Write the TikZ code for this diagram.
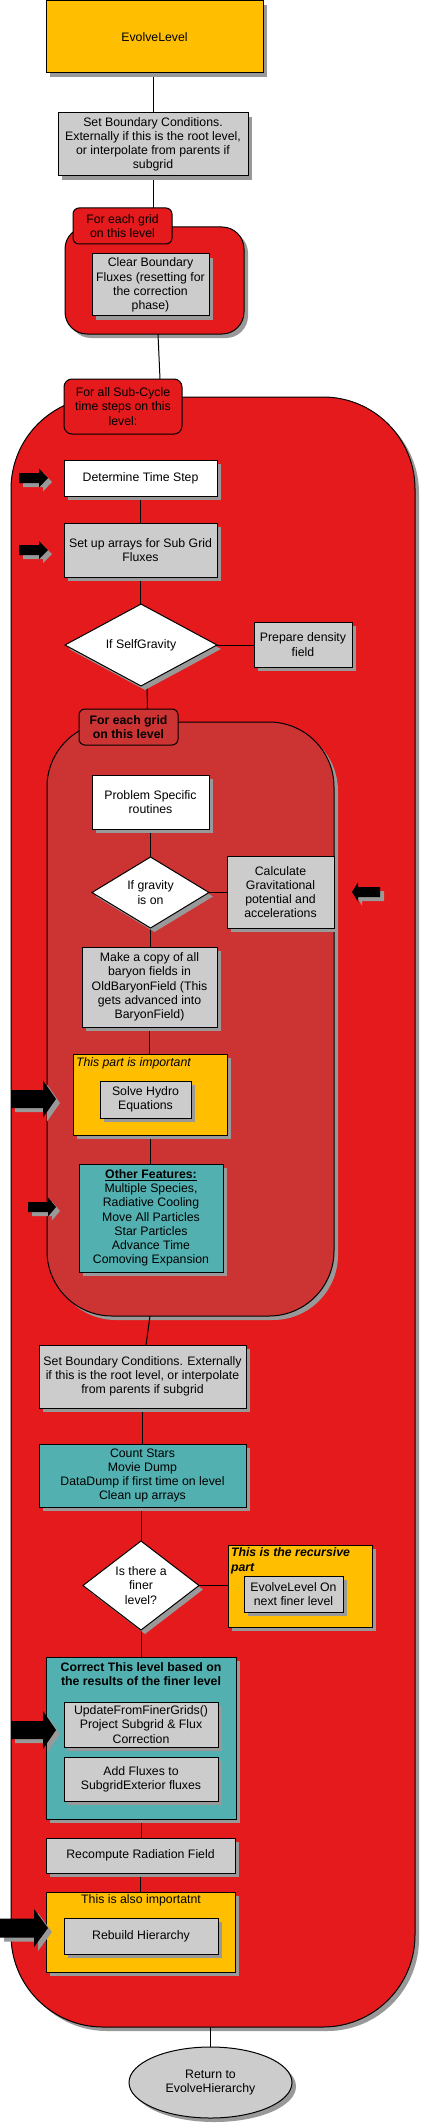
\documentclass[tikz,border=0pt]{standalone}
\usepackage{fontspec}
\setmainfont{Liberation Sans}
\usetikzlibrary{shapes.geometric,shadows}
\definecolor{yel}{HTML}{FFBF00}
\definecolor{lgray}{HTML}{CCCCCC}
\definecolor{outred}{HTML}{E41A1C}
\definecolor{inred}{HTML}{CC3333}
\definecolor{teal2}{HTML}{52B0B0}
\definecolor{shadowgray}{HTML}{999999}
\newcommand{\myfnt}{\fontsize{12.3}{14.2}\selectfont}
\pgfdeclarelayer{bg}\pgfdeclarelayer{conn}\pgfsetlayers{bg,conn,main}
\tikzset{
 shad/.style={drop shadow={shadow xshift=4pt,shadow yshift=-4pt,fill=shadowgray,opacity=1}},
 boxbase/.style={draw=black,line width=1pt,rectangle,inner sep=1pt,outer sep=0pt,anchor=north west,align=center,font=\myfnt},
 box/.style={boxbase,shad},
 sz/.style 2 args={minimum width=#1pt,minimum height=#2pt},
 dia/.style={draw=black,line width=1pt,diamond,inner sep=0pt,outer sep=0pt,fill=white,align=center,font=\myfnt,shad},
 conn/.style={draw=black,line width=1pt},
 blockarrow/.style={fill=black,shad},
 note/.style={inner sep=0pt,outer sep=0pt,font=\myfnt}
}
% xstart, xneck, xtip, ycentre, half body, half head
\newcommand{\blkarrow}[6]{%
 \path[blockarrow] (#1,#4-#5) -- (#2,#4-#5) -- (#2,#4-#6) -- (#3,#4) -- (#2,#4+#6) -- (#2,#4+#5) -- (#1,#4+#5) -- cycle;}
\begin{document}
\begin{tikzpicture}[x=1pt,y=-1pt]
\begin{pgfonlayer}{bg}
\fill[white] (0,0) rectangle (421,2124);
\end{pgfonlayer}
\useasboundingbox (0,0) rectangle (421,2124);

\begin{pgfonlayer}{bg}
\node[box,fill=outred,rounded corners=22pt,sz={179}{107}] (cont1) at (65,227) {};
\node[box,fill=outred,rounded corners=92pt,sz={404}{1630}] (cont2) at (11,397) {};
\node[box,fill=inred,rounded corners=65pt,sz={287}{594}] (cont3) at (47,722) {};
\end{pgfonlayer}

% top part
\node[box,fill=yel,sz={217}{72}] (evolve) at (46,1) {EvolveLevel};
\node[box,fill=lgray,sz={190}{63}] (setbc) at (58,113) {Set Boundary Conditions.\\Externally if this is the root level,\\or interpolate from parents if\\subgrid};
\node[boxbase,fill=outred,rounded corners=6pt,sz={99}{36}] (lab1) at (73,208) {For each grid\\on this level};
\node[box,fill=lgray,sz={117}{62}] (clear) at (92,254) {Clear Boundary\\Fluxes (resetting for\\the correction\\phase)};

% sub-cycle loop
\node[boxbase,fill=outred,rounded corners=8pt,sz={118}{55}] (lab2) at (64,379) {For all Sub-Cycle\\time steps on this\\level:};
\node[box,fill=white,sz={153}{36}] (det) at (64,460) {Determine Time Step};
\node[box,fill=lgray,sz={153}{54}] (setup) at (64,523) {Set up arrays for Sub Grid\\Fluxes};
\node[dia,minimum width=152pt,minimum height=80pt] (diam1) at (141,645) {If SelfGravity};
\node[box,fill=lgray,sz={98}{45}] (prep) at (254,622) {Prepare density\\field};

% grid loop
\node[boxbase,fill=inred,rounded corners=6pt,sz={99}{36},font=\myfnt\bfseries] (lab3) at (79,709) {For each grid\\on this level};
\node[box,fill=white,sz={117}{54}] (prob) at (92,775) {Problem Specific\\routines};
\node[dia,minimum width=117pt,minimum height=71pt] (diam2) at (150.5,892.5) {If gravity\\is on};
\node[box,fill=lgray,sz={107}{72}] (calc) at (227,856) {Calculate\\Gravitational\\potential and\\accelerations};
\node[box,fill=lgray,sz={135}{80}] (copy) at (82,947) {Make a copy of all\\baryon fields in\\OldBaryonField (This\\gets advanced into\\BaryonField)};
\node[box,fill=yel,sz={154}{81}] (imp) at (73,1054) {};
\node[note,anchor=west,font=\myfnt\itshape] (imptext) at (76,1063) {This part is important};
\node[box,fill=lgray,sz={91}{37}] (hydro) at (100,1081) {Solve Hydro\\Equations};
\node[box,fill=teal2,sz={144}{108}] (other) at (79,1164) {\underline{\textbf{Other Features:}}\\Multiple Species,\\Radiative Cooling\\Move All Particles\\Star Particles\\Advance Time\\Comoving Expansion};

% after grid loop
\node[box,fill=lgray,sz={207}{63}] (setbc2) at (39,1345) {Set Boundary Conditions. Externally\\if this is the root level, or interpolate\\from parents if subgrid};
\node[box,fill=teal2,sz={207}{63}] (count) at (39,1444) {Count Stars\\Movie Dump\\DataDump if first time on level\\Clean up arrays};
\node[dia,minimum width=116pt,minimum height=89pt] (diam3) at (141,1585.5) {Is there a\\finer\\level?};
\node[box,fill=yel,sz={144}{82}] (rec) at (228,1545) {};
\node[note,anchor=north west,align=left,font=\myfnt\bfseries\itshape] (rectext) at (231,1548) {This is the recursive\\part};
\node[box,fill=lgray,sz={99}{36}] (evolveon) at (244,1576) {EvolveLevel On\\next finer level};
\node[box,fill=teal2,sz={190}{162}] (corr) at (46,1657) {};
\node[note,align=center,font=\myfnt\bfseries] (corrtext) at (141,1674) {Correct This level based on\\the results of the finer level};
\node[box,fill=lgray,sz={154}{45}] (update) at (64,1702) {UpdateFromFinerGrids()\\Project Subgrid \& Flux\\Correction};
\node[box,fill=lgray,sz={154}{44}] (addflux) at (64,1757) {Add Fluxes to\\SubgridExterior fluxes};
\node[box,fill=lgray,sz={189}{35}] (recomp) at (46,1838) {Recompute Radiation Field};
\node[box,fill=yel,sz={189}{80}] (also) at (46,1892) {};
\node[note] (alsotext) at (141,1900) {This is also importatnt};
\node[box,fill=lgray,sz={154}{36}] (rebuild) at (64,1918) {Rebuild Hierarchy};

% end
\node[draw=black,line width=1pt,ellipse,fill=lgray,inner sep=0pt,outer sep=0pt,minimum width=163pt,minimum height=71pt,align=center,font=\myfnt,shad] (ret) at (210.5,2082.5) {Return to\\EvolveHierarchy};

% connectors
\begin{pgfonlayer}{conn}
\path[conn] (setbc.north) -- (setbc.north |- evolve.south);
\path[conn] (setbc.south) -- (setbc.south |- lab1.north);
\path[conn] ([xshift=3.5pt]cont1.south) -- ([xshift=37pt]lab2.north);
\path[conn] (det.south) -- (setup.north);
\path[conn] (setup.south) -- (setup.south |- diam1.north);
\path[conn] (diam1.east) -- (diam1.east -| prep.west);
\path[conn] ([xshift=6pt]diam1.south) -- ([xshift=19pt]lab3.north);
\path[conn] (prob.south) -- (prob.south |- diam2.north);
\path[conn] (diam2.east) -- (diam2.east -| calc.west);
\path[conn] (diam2.south) -- (diam2.south |- copy.north);
\path[conn] (copy.south) -- (copy.south |- imp.north);
\path[conn] (imp.south) -- (imp.south |- other.north);
\path[conn] ([xshift=-40.5pt]cont3.south) -- ([xshift=3.5pt]setbc2.north);
\path[conn] (setbc2.south) -- (count.north);
\path[conn] (diam3.north) -- (diam3.north |- count.south);
\path[conn] (diam3.east) -- (diam3.east -| rec.west);
\path[conn] (diam3.south) -- (diam3.south |- corr.north);
\path[conn] (corr.south) -- (corr.south |- recomp.north);
\path[conn] (recomp.south) -- (recomp.south |- also.north);
\path[conn] (ret.north) -- (ret.north |- cont2.south);
\end{pgfonlayer}

% block arrows
\blkarrow{19}{39}{48}{478}{5}{9.5}
\blkarrow{19}{39}{48}{550}{5}{9}
\blkarrow{11}{43}{56}{1099}{9}{18.5}
\blkarrow{28}{48}{56}{1207}{5}{9.5}
\blkarrow{380}{358}{352}{892}{5}{9.5}
\blkarrow{11}{43}{56}{1730}{9}{19}
\blkarrow{0}{34}{48}{1928}{9.5}{19}
\end{tikzpicture}
\end{document}
